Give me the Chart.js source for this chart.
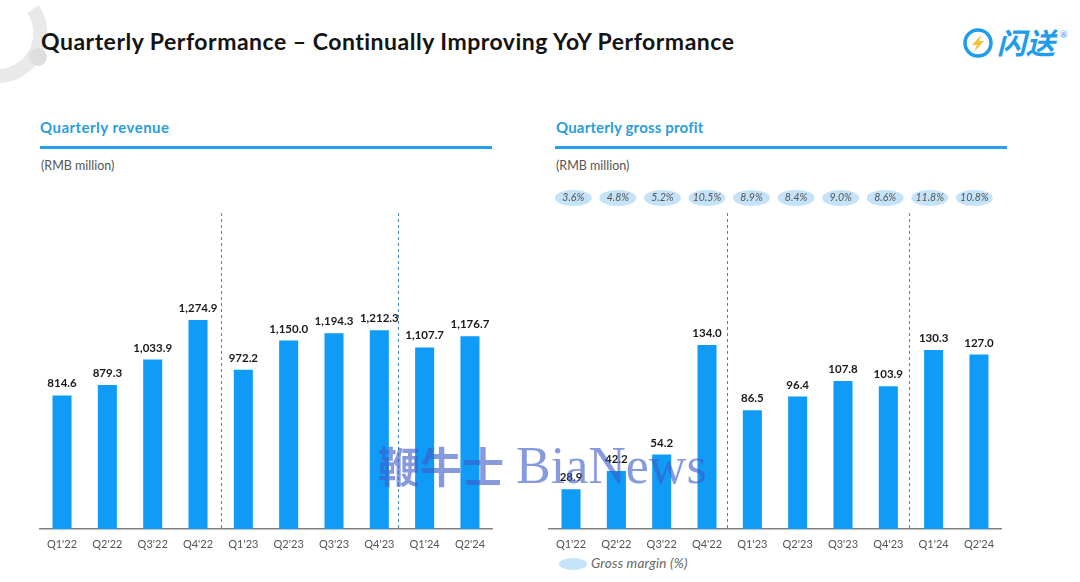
<!DOCTYPE html>
<html><head><meta charset="utf-8">
<script src="https://cdn.jsdelivr.net/npm/chart.js@4"></script>
<style>
html,body{margin:0;padding:0;background:#fff;width:1080px;height:582px;overflow:hidden;font-family:Lato,"Open Sans",sans-serif}
.a{position:absolute;white-space:nowrap;line-height:1}
canvas{position:absolute}
#title{left:41px;top:30px;font-size:23px;font-weight:700;color:#141414;letter-spacing:.5px}
.sec{top:120px;font-size:15px;font-weight:700;color:#2a9ddc}
.rule{top:146px;height:3px;background:#25a0ea;width:452px}
.unit{top:160px;font-size:12.5px;color:#555}
#wm{left:378px;top:440px;font-size:52px;color:rgba(62,92,200,.62);font-family:"Liberation Serif",serif}
#wm span{font-family:"Noto Sans CJK SC";font-size:42px;font-weight:700;margin-right:12px}
#lg{left:559px;top:558px;width:28px;height:12px;border-radius:50%;background:#c5e3f8}
#lt{left:591px;top:557px;font-size:13.5px;font-style:italic;color:#666;letter-spacing:.2px}
#logoText{left:997px;top:27px;font-size:29px;font-weight:700;font-style:italic;color:#1f9ceb;font-family:"Noto Sans CJK SC"}
</style></head><body>
<svg class="a" style="left:0;top:0" width="80" height="90">
<path d="M33 9 A43 43 0 0 1 -5 76" fill="none" stroke="#e9e9e9" stroke-width="14"/>
<circle cx="38" cy="57" r="9" fill="#dedede"/>
</svg>
<div class="a" id="title">Quarterly Performance – Continually Improving YoY Performance</div>
<svg class="a" style="left:962px;top:28px" width="34" height="32">
<circle cx="16" cy="15" r="13" fill="none" stroke="#1f9ceb" stroke-width="3.5"/>
<path d="M19 7 L10 17 H15 L12 24 L22 13 H17 Z" fill="#f5c33b"/>
</svg>
<div class="a" id="logoText">闪送</div>
<div class="a" style="left:1060px;top:30px;font-size:9px;color:#1f9ceb">®</div>
<div class="a sec" style="left:40px;letter-spacing:.47px">Quarterly revenue</div>
<div class="a rule" style="left:40px"></div>
<div class="a unit" style="left:41px">(RMB million)</div>
<div class="a sec" style="left:556px;letter-spacing:.18px">Quarterly gross profit</div>
<div class="a rule" style="left:555px"></div>
<div class="a unit" style="left:556px">(RMB million)</div>
<canvas id="c1" style="left:38px;top:185px"></canvas>
<canvas id="c2" style="left:547px;top:185px"></canvas>
<div class="a" id="lg"></div>
<div class="a" id="lt">Gross margin (%)</div>
<div class="a" id="wm"><span>鞭牛士</span>BiaNews</div>
<script>
const quarters = ["Q1'22","Q2'22","Q3'22","Q4'22","Q1'23","Q2'23","Q3'23","Q4'23","Q1'24","Q2'24"];
const revenue = [814.6,879.3,1033.9,1274.9,972.2,1150.0,1194.3,1212.3,1107.7,1176.7];
const grossProfit = [28.9,42.2,54.2,134.0,86.5,96.4,107.8,103.9,130.3,127.0];
const grossMargin = ["3.6%","4.8%","5.2%","10.5%","8.9%","8.4%","9.0%","8.6%","11.8%","10.8%"];
const dividersLeft = [3.5,7.42];
const dividersRight = [3.44,7.46];

const FONT = 'Lato,"Open Sans",sans-serif';
const fmt = v => v.toLocaleString('en-US',{minimumFractionDigits:1,maximumFractionDigits:1});

const dividers = {
  id:'dividers',
  beforeDatasetsDraw(c,a,o){
    const {ctx,scales:{x},chartArea:ca}=c;
    ctx.save();ctx.strokeStyle='#3f83c4';ctx.lineWidth=1;ctx.setLineDash([3,3]);
    o.at.forEach(v=>{const p=Math.round(x.getPixelForValue(v))+.5;
      ctx.beginPath();ctx.moveTo(p,ca.top);ctx.lineTo(p,ca.bottom);ctx.stroke();});
    ctx.restore();
  }
};
const labels = {
  id:'labels',
  afterDatasetsDraw(c){
    const {ctx}=c;ctx.save();
    ctx.font='700 11.5px '+FONT;ctx.fillStyle='#1a1a1a';ctx.textAlign='center';ctx.textBaseline='alphabetic';
    const ds=c.data.datasets[0];
    c.getDatasetMeta(0).data.forEach((b,i)=>ctx.fillText(fmt(ds.data[i]),b.x,b.y-8));
    ctx.restore();
  }
};
const pills = {
  id:'pills',
  afterDraw(c,a,o){
    if(!o.text)return;
    const {ctx,scales:{x}}=c;ctx.save();
    o.text.forEach((t,i)=>{
      const px=x.getPixelForValue(o.start+o.step*i);
      ctx.fillStyle='#c5e3f8';ctx.beginPath();ctx.ellipse(px,o.y,18.5,8,0,0,Math.PI*2);ctx.fill();
      ctx.fillStyle='#555';ctx.font='italic 10.5px '+FONT;ctx.textAlign='center';ctx.textBaseline='middle';
      ctx.fillText(t,px,o.y);
    });
    ctx.restore();
  }
};
function make(id,w,vals,max,div,pillOpts){
  const cv=document.getElementById(id);cv.width=w;cv.height=370;cv.style.width=w+'px';cv.style.height='370px';
  new Chart(cv,{type:'bar',
    data:{labels:quarters,datasets:[{data:vals,backgroundColor:'#0f9bf6',barPercentage:.42,categoryPercentage:1}]},
    options:{responsive:false,animation:false,
      layout:{padding:{top:28,left:0,right:0,bottom:0}},
      plugins:{legend:{display:false},tooltip:{enabled:false},dividers:{at:div},pills:pillOpts||{}},
      scales:{
        x:{grid:{display:false,drawTicks:false},border:{color:'#808080',width:1.5},
           afterFit(s){s.height=26},
           ticks:{color:'#555',font:{size:11,family:FONT},padding:9,maxRotation:0,autoSkip:false}},
        y:{display:false,min:0,max:max}
      }},
    plugins:[dividers,labels,pills]});
}
make('c1',456,revenue,1928,dividersLeft);
make('c2',456,grossProfit,230,dividersRight,{text:grossMargin,start:.05,step:.983,y:13});
</script>
</body></html>
